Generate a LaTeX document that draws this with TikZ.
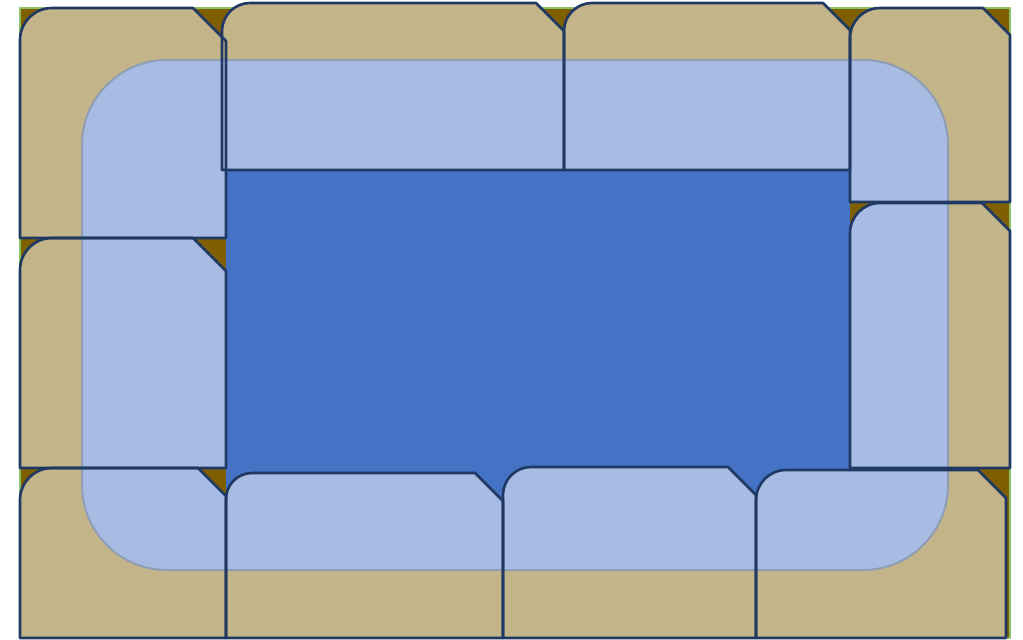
\documentclass[tikz,border=0pt]{standalone}
\usepackage{tikz}
\definecolor{soil}{HTML}{7F6000}
\definecolor{grass}{HTML}{8CC168}
\definecolor{sand}{HTML}{C3B489}
\definecolor{mist}{HTML}{A8BBE2}
\definecolor{haze}{HTML}{8F9DB7}
\definecolor{pool}{HTML}{4472C4}
\definecolor{ink}{HTML}{1F3864}
% tile outline: x1, y1, x2, y2, round radius, snip size
\newcommand{\tilepath}[6]{(#1,#4) -- (#1,{#2+#5}) .. controls (#1,{#2+0.45*#5}) and ({#1+0.45*#5},#2) .. ({#1+#5},#2) -- ({#3-#6},#2) -- (#3,{#2+#6}) -- (#3,#4) -- cycle}

\begin{document}
\begin{tikzpicture}[x=1pt, y=-1pt, line join=round]
  \useasboundingbox (0,0) rectangle (1023,640);
  % ground, with its thin green rim
  \fill[soil, draw=grass, line width=1.5pt] (20,8) rectangle (1010,638);
  % deep water in the middle
  \fill[pool] (226,170) rectangle (850,500);
  % tiles, each with the light wash where it lies under the pond
  \foreach \xa/\ya/\xb/\yb/\r/\s in {20/8/226/238/32/33, 20/238/226/468/32/33, 20/468/226/638/32/28,
      226/473/503/638/26/28, 503/467/756/638/28/28, 756/470/1006/638/30/28,
      850/203/1010/468/30/28, 850/8/1010/202/30/27, 564/3/850/170/28/27, 222/3/564/170/28/28} {
    \fill[sand] \tilepath{\xa}{\ya}{\xb}{\yb}{\r}{\s};
    \begin{scope}
      \clip \tilepath{\xa}{\ya}{\xb}{\yb}{\r}{\s};
      \fill[mist, draw=haze, line width=2pt, rounded corners=85pt] (82,60) rectangle (948,570);
    \end{scope}
  }
  % tile edges on top
  \foreach \xa/\ya/\xb/\yb/\r/\s in {20/8/226/238/32/33, 20/238/226/468/32/33, 20/468/226/638/32/28,
      226/473/503/638/26/28, 503/467/756/638/28/28, 756/470/1006/638/30/28,
      850/203/1010/468/30/28, 850/8/1010/202/30/27, 564/3/850/170/28/27, 222/3/564/170/28/28}
    \draw[ink, line width=2.6pt] \tilepath{\xa}{\ya}{\xb}{\yb}{\r}{\s};
\end{tikzpicture}
\end{document}
